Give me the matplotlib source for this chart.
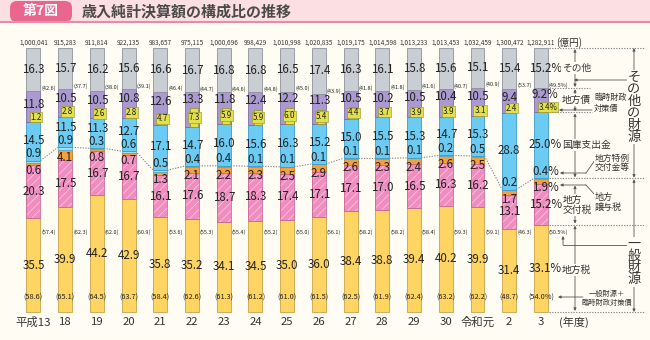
import matplotlib
matplotlib.use('Agg')
import matplotlib.pyplot as plt
from matplotlib.patches import FancyBboxPatch, Rectangle
import numpy as np

plt.rcParams['font.family'] = ['Noto Sans CJK JP', 'DejaVu Sans']
plt.rcParams['hatch.linewidth'] = 0.5

# ---------------- data ----------------
years = ['平成13', '18', '19', '20', '21', '22', '23', '24', '25', '26',
         '27', '28', '29', '30', '令和元', '2', '3']
totals = ['1,000,041', '915,283', '911,814', '922,135', '983,657', '975,115',
          '1,000,696', '998,429', '1,010,998', '1,020,835', '1,019,175',
          '1,014,598', '1,013,233', '1,013,453', '1,032,459', '1,300,472', '1,282,911']
local_tax = [35.5, 39.9, 44.2, 42.9, 35.8, 35.2, 34.1, 34.5, 35.0, 36.0,
             38.4, 38.8, 39.4, 40.2, 39.9, 31.4, 33.1]
allocation_tax = [20.3, 17.5, 16.7, 16.7, 16.1, 17.6, 18.7, 18.3, 17.4, 17.1,
                  17.1, 17.0, 16.5, 16.3, 16.2, 13.1, 15.2]
transfer_tax = [0.6, 4.1, 0.8, 0.7, 1.3, 2.1, 2.2, 2.3, 2.5, 2.9,
                2.6, 2.3, 2.4, 2.6, 2.5, 1.7, 1.9]
special_grant = [0.9, 0.9, 0.3, 0.6, 0.5, 0.4, 0.4, 0.1, 0.1, 0.1,
                 0.1, 0.1, 0.1, 0.2, 0.5, 0.2, 0.4]
treasury = [14.5, 11.5, 11.3, 12.7, 17.1, 14.7, 16.0, 15.6, 16.3, 15.2,
            15.0, 15.5, 15.3, 14.7, 15.3, 28.8, 25.0]
local_bonds = [11.8, 10.5, 10.5, 10.8, 12.6, 13.3, 11.8, 12.4, 12.2, 11.3,
               10.5, 10.2, 10.5, 10.4, 10.5, 9.4, 9.2]
temp_bonds = [1.2, 2.8, 2.6, 2.8, 4.7, 7.3, 5.9, 5.9, 6.0, 5.4,
              4.4, 3.7, 3.9, 3.9, 3.1, 2.4, 3.4]
others = [16.3, 15.7, 16.2, 15.6, 16.6, 16.7, 16.8, 16.8, 16.5, 17.4,
          16.3, 16.1, 15.8, 15.6, 15.1, 15.4, 15.2]
other_share = ['42.6', '37.7', '38.0', '39.1', '46.4', '44.7', '44.6', '44.8', '45.0',
               '43.9', '41.8', '41.8', '41.6', '40.7', '40.9', '53.7', '49.5%']
general_share = ['57.4', '62.3', '62.0', '60.9', '53.6', '55.3', '55.4', '55.2', '55.0',
                 '56.1', '58.2', '58.2', '58.4', '59.3', '59.1', '46.3', '50.5%']
general_plus_share = ['58.6', '65.1', '64.5', '63.7', '58.4', '62.6', '61.3', '61.2', '61.0',
                      '61.5', '62.5', '61.9', '62.4', '63.2', '62.2', '48.7', '54.0%']

# ---------------- style ----------------
BG = '#fffdf3'
TXT = '#222222'
C_YEL, E_YEL = '#fed462', '#c9a24a'
C_PNK, E_PNK = '#f08cbf', '#c8679a'
C_ORG, E_ORG = '#f5a03a', '#c47a22'
C_SPC, E_SPC = '#a8dcf2', '#5aa6cb'
C_BLU, E_BLU = '#6ccbf3', '#3c9bc7'
C_PUR, E_PUR = '#aa9ad0', '#7c6ca8'
C_TMP, E_TMP = '#e2e04c', '#8f8f2a'
C_GRY, E_GRY = '#c9ced4', '#8d939a'
SMALL = 4.6

n = len(years)
xs = np.arange(n)
BW = 0.44


def X(px):
    return (px - 33.4) / 31.72


def Y(py):
    return (312 - py) / 2.64


fig = plt.figure(figsize=(6.5, 3.4), dpi=100, facecolor=BG)
ax = fig.add_axes([0, 0, 1, 1])
ax.set_facecolor(BG)
ax.set_xlim(X(0), X(650))
ax.set_ylim(Y(340), Y(0))
ax.axis('off')

lt = np.array(local_tax)
at = np.array(allocation_tax)
tt = np.array(transfer_tax)
sg = np.array(special_grant)
tr = np.array(treasury)
lb = np.array(local_bonds)
tb = np.array(temp_bonds)
ot = np.array(others)

b1 = lt
b2 = b1 + at
b3 = b2 + tt
g = b3 + sg
b5 = g + tr
b6 = b5 + lb
top = b6 + ot

# ---------------- bars ----------------
ax.bar(xs, lt, BW, bottom=0, color=C_YEL, edgecolor=E_YEL, lw=0.6, zorder=2)
ax.bar(xs, at, BW, bottom=b1, color=C_PNK, edgecolor='none', lw=0, zorder=2)
ax.bar(xs, at, BW, bottom=b1, color='none', edgecolor='#f9cfe4', hatch='////', lw=0, zorder=2.1)
ax.bar(xs, at, BW, bottom=b1, color='none', edgecolor=E_PNK, lw=0.6, zorder=2.2)
ax.bar(xs, tt, BW, bottom=b2, color=C_ORG, edgecolor=E_ORG, lw=0.6, zorder=2)
ax.bar(xs, sg, BW, bottom=b3, color=C_SPC, edgecolor=E_SPC, lw=0.6, zorder=2)
ax.bar(xs, tr, BW, bottom=g, color=C_BLU, edgecolor=E_BLU, lw=0.6, zorder=2)
ax.bar(xs, lb, BW, bottom=b5, color=C_PUR, edgecolor=E_PUR, lw=0.6, zorder=2)
ax.bar(xs + 0.07, tb, 0.26, bottom=b5, color=C_TMP, edgecolor=E_TMP, lw=0.5, zorder=2.3)
ax.bar(xs, ot, BW, bottom=b6, color=C_GRY, edgecolor=E_GRY, lw=0.6, zorder=2)

# dotted connector at general-revenue boundary
for i in range(n - 1):
    ax.plot([i + BW / 2, i + 1 - BW / 2], [g[i], g[i + 1]], ls=(0, (1.2, 1.2)),
            color='#8a8a8a', lw=0.8, zorder=1.5)


# ---------------- value labels ----------------
def vlabel(i, y, v, fs=8.3, dx=0.0, box=None):
    s = f'{v:.1f}'
    if i == n - 1:
        s += '%'
        dx += 0.14
    kw = {}
    if box is not None:
        kw['bbox'] = dict(boxstyle='square,pad=0.1', fc=box, ec=E_TMP, lw=0.4)
    ax.text(i + dx, y, s, ha='center', va='center', fontsize=fs, color=TXT, zorder=6, **kw)


for i in range(n):
    vlabel(i, (b6[i] + top[i]) / 2, ot[i])
    vlabel(i, (b5[i] + tb[i] + b6[i]) / 2 + 0.3, lb[i])
    vlabel(i, b5[i] + max(tb[i] / 2, 2.0), tb[i], fs=5.8, dx=0.08, box=C_TMP)
    vlabel(i, max((g[i] + b5[i]) / 2 + 0.5, g[i] + 7.6), tr[i])
    vlabel(i, g[i] + 2.6, sg[i])
    vlabel(i, min((b2[i] + b3[i]) / 2 - 0.8, g[i] - 3.6), tt[i])
    vlabel(i, (b1[i] + b2[i]) / 2, at[i])
    vlabel(i, lt[i] / 2, lt[i])

    ax.text(i + BW / 2 + 0.03, b6[i] + 1.2, f'({other_share[i]})', ha='left', va='center',
            fontsize=SMALL - 0.6, color=TXT, zorder=6)
    ax.text(i + BW / 2 + 0.03, Y(232), f'({general_share[i]})', ha='left', va='center',
            fontsize=SMALL - 0.6, color=TXT, zorder=6)
    ax.text(i, Y(298), f'({general_plus_share[i]})', ha='center', va='center',
            fontsize=5.3, color=TXT, zorder=6)
    ax.text(i, Y(43), totals[i], ha='center', va='center', fontsize=SMALL,
            color='#333333')
    ax.text(i, Y(322), years[i], ha='center', va='center', fontsize=8.2, color='#333333')

ax.text(X(556), Y(43), '(億円)', ha='left', va='center', fontsize=7, color='#333333')
ax.text(X(559), Y(322), '(年度)', ha='left', va='center', fontsize=8, color='#333333')

# ---------------- right-side annotations ----------------
LC = '#555555'
r = n - 1
for lvl, x2 in [(top[r], 645), (b6[r], 590), (b5[r], 592), (g[r], 645), (b1[r], 645), (0, 645)]:
    ax.plot([X(549), X(x2)], [lvl, lvl], ls=(0, (1.2, 1.2)), color='#8a8a8a', lw=0.8, zorder=1)


def darrow(x, y0, y1, lw=0.6):
    ax.annotate('', xy=(x, y1), xytext=(x, (y0 + y1) / 2),
                arrowprops=dict(arrowstyle='-|>', lw=lw, color=LC, shrinkA=0, shrinkB=0,
                                mutation_scale=4))
    ax.annotate('', xy=(x, y0), xytext=(x, (y0 + y1) / 2),
                arrowprops=dict(arrowstyle='-|>', lw=lw, color=LC, shrinkA=0, shrinkB=0,
                                mutation_scale=4))


def lab(x, y, s, fs=7, ha='left', **kw):
    ax.text(x, y, s, ha=ha, va='center', fontsize=fs, color='#333333', zorder=7,
            bbox=dict(boxstyle='square,pad=0.1', fc=BG, ec='none'), **kw)


xc = X(575)
darrow(xc, top[r] - 0.4, b6[r] + 0.4)
darrow(xc, b6[r] - 0.4, b5[r] + 0.4)
darrow(xc, b5[r] - 0.4, g[r] + 0.4)
darrow(xc, b2[r] - 0.4, b1[r] + 0.4)
darrow(xc, b1[r] - 0.4, 0.4)
lab(X(562), Y(68), 'その他')
lab(X(562), Y(100), '地方債')
lab(X(562), Y(145), '国庫支出金')
lab(X(563), Y(205), '地方\n交付税', linespacing=1.0)
lab(X(562), Y(270), '地方税')

xb = X(634)
darrow(xb, top[r], g[r] + 0.3)
darrow(xb, g[r] - 0.3, 0)
ax.text(xb, Y(107), '\n'.join('その他の財源'), ha='center', va='center', fontsize=9.5,
        color='#333333', linespacing=0.9, zorder=7,
        bbox=dict(boxstyle='square,pad=0.05', fc=BG, ec='none'))
ax.text(xb, Y(262), '\n'.join('一般財源'), ha='center', va='center', fontsize=9.5,
        color='#333333', linespacing=0.9, zorder=7,
        bbox=dict(boxstyle='square,pad=0.05', fc=BG, ec='none'))

# (49.5%) leader
ax.annotate('', xy=(X(574), Y(80)), xytext=(xb, Y(80)),
            arrowprops=dict(arrowstyle='-|>', lw=0.6, color=LC, shrinkA=0, shrinkB=0, mutation_scale=4))
# 臨時財政対策債
lab(X(594), Y(103), '臨時財政\n対策債', fs=5.9, linespacing=1.15)
ax.annotate('', xy=(X(559), Y(110)), xytext=(X(592), Y(110)),
            arrowprops=dict(arrowstyle='-|>', lw=0.6, color=LC, shrinkA=0, shrinkB=0, mutation_scale=4))
# 地方特例交付金等
lab(X(595), Y(163), '地方特例\n交付金等', fs=6.3, linespacing=1.1)
ax.plot([X(595), X(586)], [Y(160), Y(173)], color=LC, lw=0.6)
ax.annotate('', xy=(X(560), Y(173)), xytext=(X(586), Y(173)),
            arrowprops=dict(arrowstyle='-|>', lw=0.6, color=LC, shrinkA=0, shrinkB=0, mutation_scale=4))
# 地方譲与税
lab(X(595), Y(202), '地方\n譲与税', fs=6.5, linespacing=1.1)
ax.plot([X(595), X(586)], [Y(195), Y(185)], color=LC, lw=0.6)
ax.annotate('', xy=(X(560), Y(185)), xytext=(X(586), Y(185)),
            arrowprops=dict(arrowstyle='-|>', lw=0.6, color=LC, shrinkA=0, shrinkB=0, mutation_scale=4))
# (50.5%) leader
ax.plot([xb, X(563)], [Y(245), Y(245)], color=LC, lw=0.6)
ax.annotate('', xy=(X(563), Y(236)), xytext=(X(563), Y(245)),
            arrowprops=dict(arrowstyle='-|>', lw=0.6, color=LC, shrinkA=0, shrinkB=0, mutation_scale=4))
# 一般財源＋臨時財政対策債
ax.text(X(607), Y(298), '一般財源＋\n臨時財政対策債', ha='center', va='center', fontsize=5.2,
        color='#333333', linespacing=1.15, zorder=7)
ax.annotate('', xy=(X(558), Y(297)), xytext=(X(583), Y(297)),
            arrowprops=dict(arrowstyle='-|>', lw=0.6, color=LC, shrinkA=0, shrinkB=0, mutation_scale=4))

# ---------------- header ----------------
axh = fig.add_axes([0, 1 - 23 / 340, 1, 23 / 340])
axh.set_xlim(0, 650)
axh.set_ylim(23, 0)
axh.axis('off')
axh.add_patch(Rectangle((0, 0), 650, 21, fc='#fcdfe2', ec='none'))
axh.plot([0, 650], [21.5, 21.5], color='#e98aa6', lw=1.5)
axh.add_patch(FancyBboxPatch((10, 1), 62, 21, boxstyle='round,pad=0,rounding_size=7',
                             fc='#e9678f', ec='none'))
axh.text(41, 11.5, '第7図', ha='center', va='center', fontsize=10, color='white',
         fontweight='bold')
axh.text(82, 11.5, '歳入純計決算額の構成比の推移', ha='left', va='center', fontsize=10.8,
         color='#4a4a4a', fontweight='bold')

fig.savefig('out.png', dpi=100, facecolor=BG)
